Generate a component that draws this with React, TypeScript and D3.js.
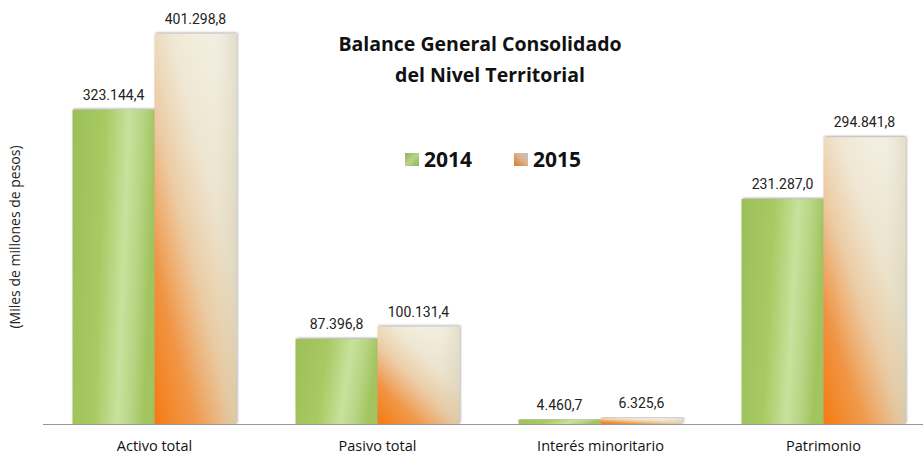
import React from "react";
import * as d3 from "d3";

const categories = ["Activo total", "Pasivo total", "Interés minoritario", "Patrimonio"];
const seriesNames = ["2014", "2015"];
const values2014 = [323144.4, 87396.8, 4460.7, 231287.0];
const values2015 = [401298.8, 100131.4, 6325.6, 294841.8];
const valueLabels2014 = ["323.144,4", "87.396,8", "4.460,7", "231.287,0"];
const valueLabels2015 = ["401.298,8", "100.131,4", "6.325,6", "294.841,8"];

const W = 923;
const H = 456;
const baseY = 424;

export default function App() {
  const x0 = d3.scaleBand<string>().domain(categories).range([43, 935]).paddingInner(0.265).paddingOuter(0.1325);
  const x1 = d3.scaleBand<string>().domain(seriesNames).range([0, x0.bandwidth()]);
  const y = d3.scaleLinear().domain([0, 436000]).range([baseY, 0]);

  const rows = categories.map((c, i) => ({
    c,
    vals: [
      { s: "2014", v: values2014[i], label: valueLabels2014[i] },
      { s: "2015", v: values2015[i], label: valueLabels2015[i] },
    ],
  }));

  const sans = "'Open Sans', 'DejaVu Sans', sans-serif";
  const num = "Roboto, 'Liberation Sans', Arial, sans-serif";

  return (
    <svg width={W} height={H} style={{ position: "absolute", left: 0, top: 0, background: "#fff" }}>
      <defs>
        <linearGradient id="gGreen" x1="0" y1="0" x2="1" y2="0.15">
          <stop offset="0" stopColor="#9cbf58" />
          <stop offset="0.4" stopColor="#a9ca63" />
          <stop offset="0.68" stopColor="#c7e29c" />
          <stop offset="0.85" stopColor="#b6d482" />
          <stop offset="1" stopColor="#a2c45e" />
        </linearGradient>
        <linearGradient id="gOrange" x1="0" y1="1" x2="0.8" y2="0">
          <stop offset="0" stopColor="#f57a10" />
          <stop offset="0.25" stopColor="#f0923f" />
          <stop offset="0.48" stopColor="#ecc99f" />
          <stop offset="0.7" stopColor="#efe7d2" />
          <stop offset="1" stopColor="#f8f5ec" />
        </linearGradient>
        <linearGradient id="gOrangeRight" x1="0" y1="0" x2="1" y2="0">
          <stop offset="0" stopColor="#ffffff" stopOpacity="0" />
          <stop offset="0.75" stopColor="#d8cfb0" stopOpacity="0.15" />
          <stop offset="1" stopColor="#cfc6a6" stopOpacity="0.5" />
        </linearGradient>
        <filter id="shadow" x="-10%" y="-10%" width="120%" height="120%">
          <feDropShadow dx="1" dy="-1" stdDeviation="1.2" floodColor="#555" floodOpacity="0.55" />
        </filter>
        <linearGradient id="lgGreen" x1="0" y1="0" x2="1" y2="1">
          <stop offset="0" stopColor="#8fb35a" />
          <stop offset="0.5" stopColor="#b9d48a" />
          <stop offset="1" stopColor="#8fb35a" />
        </linearGradient>
        <linearGradient id="lgOrange" x1="0" y1="1" x2="1" y2="0">
          <stop offset="0" stopColor="#d9782e" />
          <stop offset="0.6" stopColor="#e0b58f" />
          <stop offset="1" stopColor="#b9c4d0" />
        </linearGradient>
      </defs>

      {rows.map((r) => (
        <g key={r.c} transform={`translate(${x0(r.c)},0)`}>
          {r.vals.map((d) => {
            const bx = x1(d.s)!;
            const bw = x1.bandwidth();
            const by = y(d.v);
            const bh = baseY - by;
            return (
              <g key={d.s}>
                <rect x={bx} y={by} width={bw} height={bh} fill={d.s === "2014" ? "url(#gGreen)" : "url(#gOrange)"} filter="url(#shadow)" />
                {d.s === "2015" && <rect x={bx} y={by} width={bw} height={bh} fill="url(#gOrangeRight)" />}
                <text x={bx + bw / 2} y={by - 10} textAnchor="middle" fontFamily={num} fontSize={14} fill="#222">
                  {d.label}
                </text>
              </g>
            );
          })}
        </g>
      ))}

      <line x1={43} x2={923} y1={baseY + 0.5} y2={baseY + 0.5} stroke="#999" strokeWidth={1} />

      {categories.map((c) => (
        <text key={c} x={x0(c)! + x0.bandwidth() / 2} y={451} textAnchor="middle" fontFamily={sans} fontSize={14.5} fill="#111">
          {c}
        </text>
      ))}

      <text transform="translate(20,237) rotate(-90)" textAnchor="middle" fontFamily={sans} fontSize={14} fill="#222">
        (Miles de millones de pesos)
      </text>

      <text x={480} y={51} textAnchor="middle" fontFamily={sans} fontWeight="bold" fontSize={19.5} fill="#111">
        Balance General Consolidado
      </text>
      <text x={490} y={82} textAnchor="middle" fontFamily={sans} fontWeight="bold" fontSize={19.5} fill="#111">
        del Nivel Territorial
      </text>

      {seriesNames.map((s, i) => {
        const lx = [405, 514][i];
        return (
          <g key={s}>
            <rect x={lx} y={153} width={14} height={13} fill={i === 0 ? "url(#lgGreen)" : "url(#lgOrange)"} />
            <text x={lx + 19} y={167} fontFamily={sans} fontWeight="bold" fontSize={21} fill="#111">
              {s}
            </text>
          </g>
        );
      })}
    </svg>
  );
}
